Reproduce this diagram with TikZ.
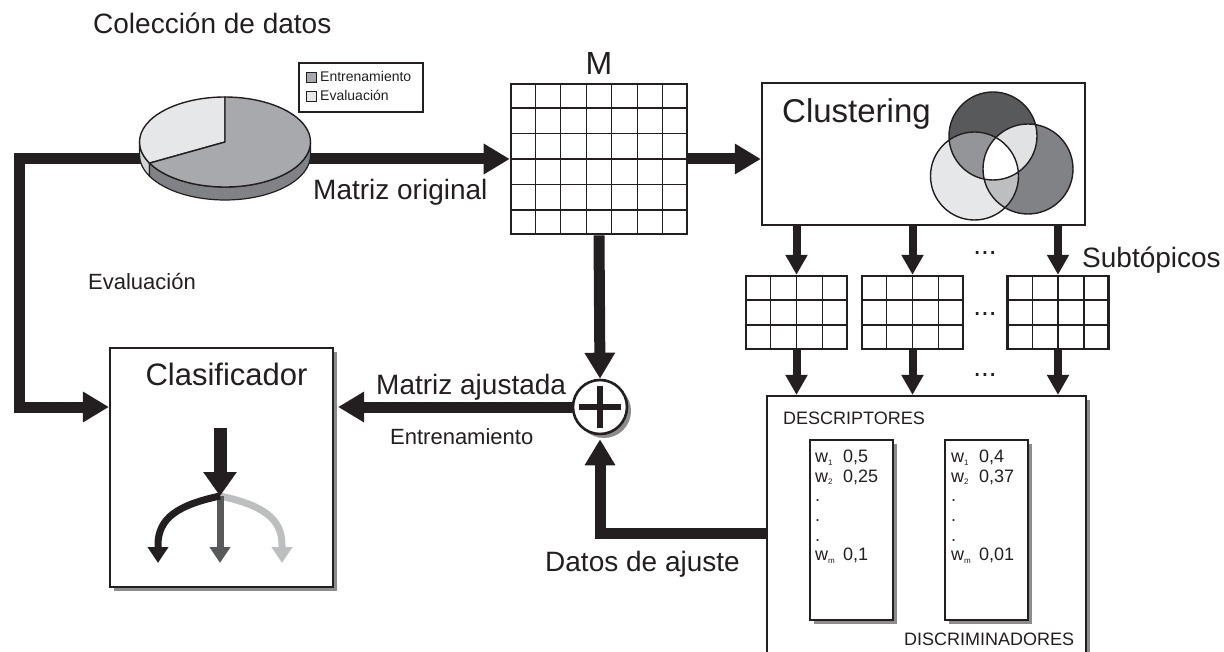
\documentclass[tikz,border=0pt]{standalone}
\usepackage{fontspec}
\setmainfont{Liberation Sans}
\usetikzlibrary{arrows.meta,calc,shadows,positioning}

\definecolor{ink}{HTML}{231F20}
\definecolor{piedark}{HTML}{A7A9AC}
\definecolor{piedarkside}{HTML}{808285}
\definecolor{pielight}{HTML}{E6E7E8}
\definecolor{pielightside}{HTML}{D1D3D4}
\definecolor{venntop}{HTML}{58595B}
\definecolor{vennleft}{HTML}{E6E7E8}
\definecolor{vennright}{HTML}{808285}
\definecolor{venntl}{HTML}{939598}
\definecolor{venntr}{HTML}{E1E2E3}
\definecolor{vennlr}{HTML}{BCBEC0}
\definecolor{branchmid}{HTML}{58595B}
\definecolor{branchlight}{HTML}{BCBEC0}

\tikzset{
    flow/.style={draw=ink, line width=11pt, -{Triangle[length=26pt,width=29pt]}},
    sub flow/.style={draw=ink, line width=8pt, -{Triangle[length=20pt,width=21pt]}},
    branch/.style={line width=7pt, -{Triangle[length=16pt,width=20pt]}},
    grid box/.style={rectangle, draw=ink, line width=2.6pt, fill=white, inner sep=0},
    cell/.style={draw=ink, line width=1.3pt},
    box/.style={rectangle, draw=ink, line width=2.4pt, fill=white, inner sep=0},
    panel/.style={rectangle, draw=ink, line width=2.2pt, fill=white, inner sep=0,
        drop shadow={shadow xshift=4pt, shadow yshift=-4pt, fill=black!45, opacity=1}},
    key/.style={rectangle, draw=ink, line width=1pt, minimum size=10pt, inner sep=0},
    big text/.style={inner sep=0, text=ink, font=\fontsize{28}{32}\selectfont},
    mid text/.style={inner sep=0, text=ink, font=\fontsize{22}{26}\selectfont},
    small text/.style={inner sep=0, text=ink, font=\fontsize{18}{20}\selectfont},
    legend text/.style={inner sep=0, text=ink, font=\fontsize{14}{16}\selectfont},
    weight text/.style={inner sep=0, text=ink, align=left, font=\fontsize{18}{19.6}\selectfont}
    }

% grid lines inside a rectangular node: name, columns, rows
\newcommand{\cellgrid}[3]{%
    \pgfmathtruncatemacro{\lastcol}{#2-1}%
    \pgfmathtruncatemacro{\lastrow}{#3-1}%
    \foreach \i in {1,...,\lastcol}
        \draw[cell] ($(#1.north west)!\i/#2!(#1.north east)$) -- ($(#1.south west)!\i/#2!(#1.south east)$);
    \foreach \j in {1,...,\lastrow}
        \draw[cell] ($(#1.north west)!\j/#3!(#1.south west)$) -- ($(#1.north east)!\j/#3!(#1.south east)$);
}
\newcommand{\wname}[1]{\makebox[28pt][l]{w\raisebox{-2.5pt}{\fontsize{8}{8}\selectfont#1}}}

\begin{document}
\begin{tikzpicture}[x=1pt, y=-1pt]
\useasboundingbox (0,0) rectangle (1224,652);
\clip (0,0) rectangle (1224,652);

% matrix M
\node[grid box, minimum width=176pt, minimum height=150pt] (M) at (599,159) {};
\cellgrid{M}{7}{6}
\node[big text, font=\fontsize{32}{36}\selectfont, above=8pt of M] (Mname) {M};

% clustering
\node[box, minimum width=323pt, minimum height=142pt] (clus) at (923.5,154) {};
\node[big text, font=\fontsize{33}{36}\selectfont, anchor=base west] (clustxt) at (782,123) {Clustering};
\fill[venntop] (993,136) circle[radius=44];
\fill[vennleft] (974.5,176) circle[radius=44];
\fill[vennright] (1028,169) circle[radius=45];
\begin{scope}
    \clip (993,136) circle[radius=44];
    \fill[venntl] (974.5,176) circle[radius=44];
    \fill[venntr] (1028,169) circle[radius=45];
\end{scope}
\begin{scope}
    \clip (974.5,176) circle[radius=44];
    \fill[vennlr] (1028,169) circle[radius=45];
    \clip (993,136) circle[radius=44];
    \fill[white] (1028,169) circle[radius=45];
\end{scope}
\draw[ink, line width=1.4pt] (993,136) circle[radius=44] (974.5,176) circle[radius=44] (1028,169) circle[radius=45];

% subtopic matrices
\foreach \n/\x in {1/796.5, 2/912.5, 3/1058} {
    \node[grid box, line width=2.4pt, minimum width=101pt, minimum height=73pt] (sub\n) at (\x,312.5) {};
    \cellgrid{sub\n}{4}{3}
}
\foreach \k/\y in {1/255, 2/316, 3/377}
    \node[big text, anchor=base] (dots\k) at (985,\y) {...};
\node[big text, anchor=base west] (subtxt) at (1082,268) {Subtópicos};

% descriptors
\node[panel, minimum width=319pt, minimum height=268pt] (desc) at (926.5,530) {};
\node[panel, line width=1.6pt, minimum width=83pt, minimum height=180pt] (descA) at (851.5,530) {};
\node[panel, line width=1.6pt, minimum width=83pt, minimum height=180pt] (descB) at (986.5,530) {};
\node[small text, anchor=base west] (desctxt) at (783,424) {DESCRIPTORES};
\node[small text, anchor=base west] (disctxt) at (904,645) {DISCRIMINADORES};
\node[weight text, anchor=north west] (wA) at (815,450)
    {\wname{1}0,5\\ \wname{2}0,25\\ .\\ .\\ .\\ \wname{m}0,1};
\node[weight text, anchor=north west] (wB) at (951,450)
    {\wname{1}0,4\\ \wname{2}0,37\\ .\\ .\\ .\\ \wname{m}0,01};

% classifier and sum
\node[panel, minimum width=223pt, minimum height=239pt] (clas) at (221.5,467.5) {};
\node[big text, font=\fontsize{31}{34}\selectfont, anchor=base] (clastxt) at (226.5,385) {Clasificador};
\node[panel, circle, line width=2.6pt, minimum size=54pt] (plus) at (600,407) {};
\draw[ink, line width=5.5pt] ([xshift=-21pt]plus.center) -- ([xshift=21pt]plus.center);
\draw[ink, line width=5.5pt] ([yshift=-21pt]plus.center) -- ([yshift=21pt]plus.center);

% tree inside the classifier
\coordinate (forkTop) at (220,428);
\coordinate (fork) at (220,496);
\coordinate (leafL) at (158,563);
\coordinate (leafM) at (220,563);
\coordinate (leafR) at (282,563);
\draw[branch, draw=branchlight] (fork) .. controls (262,505) and (282,518) .. (282,545) -- (leafR);
\draw[branch, draw=branchmid] (fork) -- (leafM);
\draw[branch, draw=ink] (fork) .. controls (178,505) and (158,518) .. (158,545) -- (leafL);
\draw[ink, line width=13pt, -{Triangle[length=24pt,width=32pt]}] (forkTop) -- (fork);

% connectors
\coordinate (pieL) at (170,159);
\coordinate (pieR) at (280,159);
\coordinate (evalTurn) at (19,159);
\draw[flow] (pieR) -- (M.west);
\draw[flow] (pieL) -- (evalTurn) |- (clas.west |- plus);
\draw[flow] (M.east) -- (clus.west |- M.east);
\draw[flow] (M.south) -- (plus.north);
\draw[flow, shorten >=4pt] (plus.west) -- (clas.east |- plus);
\draw[flow, shorten >=4pt] (desc.west |- 0,533) -| (plus.south);
\foreach \n in {1,2,3} {
    \draw[sub flow] (clus.south -| sub\n.north) -- (sub\n.north);
    \draw[sub flow] (sub\n.south) -- (sub\n.south |- desc.north);
}

% pie chart
\begin{scope}[shift={(225,142)}, y=1pt]
    \filldraw[fill=pielightside, draw=ink, line width=1.2pt] (180:85.5 and 45) arc[start angle=180, end angle=208, x radius=85.5, y radius=45]
        -- ++(0,-13) arc[start angle=208, end angle=180, x radius=85.5, y radius=45] -- cycle;
    \filldraw[fill=piedarkside, draw=ink, line width=1.2pt] (208:85.5 and 45) arc[start angle=208, end angle=360, x radius=85.5, y radius=45]
        -- ++(0,-13) arc[start angle=360, end angle=208, x radius=85.5, y radius=45] -- cycle;
    \filldraw[fill=pielight, draw=ink, line width=1.4pt] (0,0) -- (90:85.5 and 45) arc[start angle=90, end angle=208, x radius=85.5, y radius=45] -- cycle;
    \filldraw[fill=piedark, draw=ink, line width=1.4pt] (0,0) -- (208:85.5 and 45) arc[start angle=208, end angle=450, x radius=85.5, y radius=45] -- cycle;
\end{scope}

% legend
\node[rectangle, draw=ink, line width=2pt, fill=white, minimum width=124pt, minimum height=49pt, inner sep=0] (legend) at (361,87.5) {};
\node[key, fill=piedark] (keyA) at (311,77.5) {};
\node[key, fill=pielight] (keyB) at (311,96.5) {};
\node[legend text, anchor=base west] (keyAtxt) at (320,82) {Entrenamiento};
\node[legend text, anchor=base west] (keyBtxt) at (320,100.5) {Evaluación};

% labels
\node[big text, anchor=base west] (title) at (93,34) {Colección de datos};
\node[big text, anchor=base west] (origtxt) at (313,200) {Matriz original};
\node[mid text, anchor=base west] (evaltxt) at (88,290) {Evaluación};
\node[big text, anchor=base west] (ajustxt) at (376,395) {Matriz ajustada};
\node[mid text, anchor=base west] (entrtxt) at (390,444) {Entrenamiento};
\node[big text, anchor=base west] (datostxt) at (545,571) {Datos de ajuste};
\end{tikzpicture}
\end{document}
